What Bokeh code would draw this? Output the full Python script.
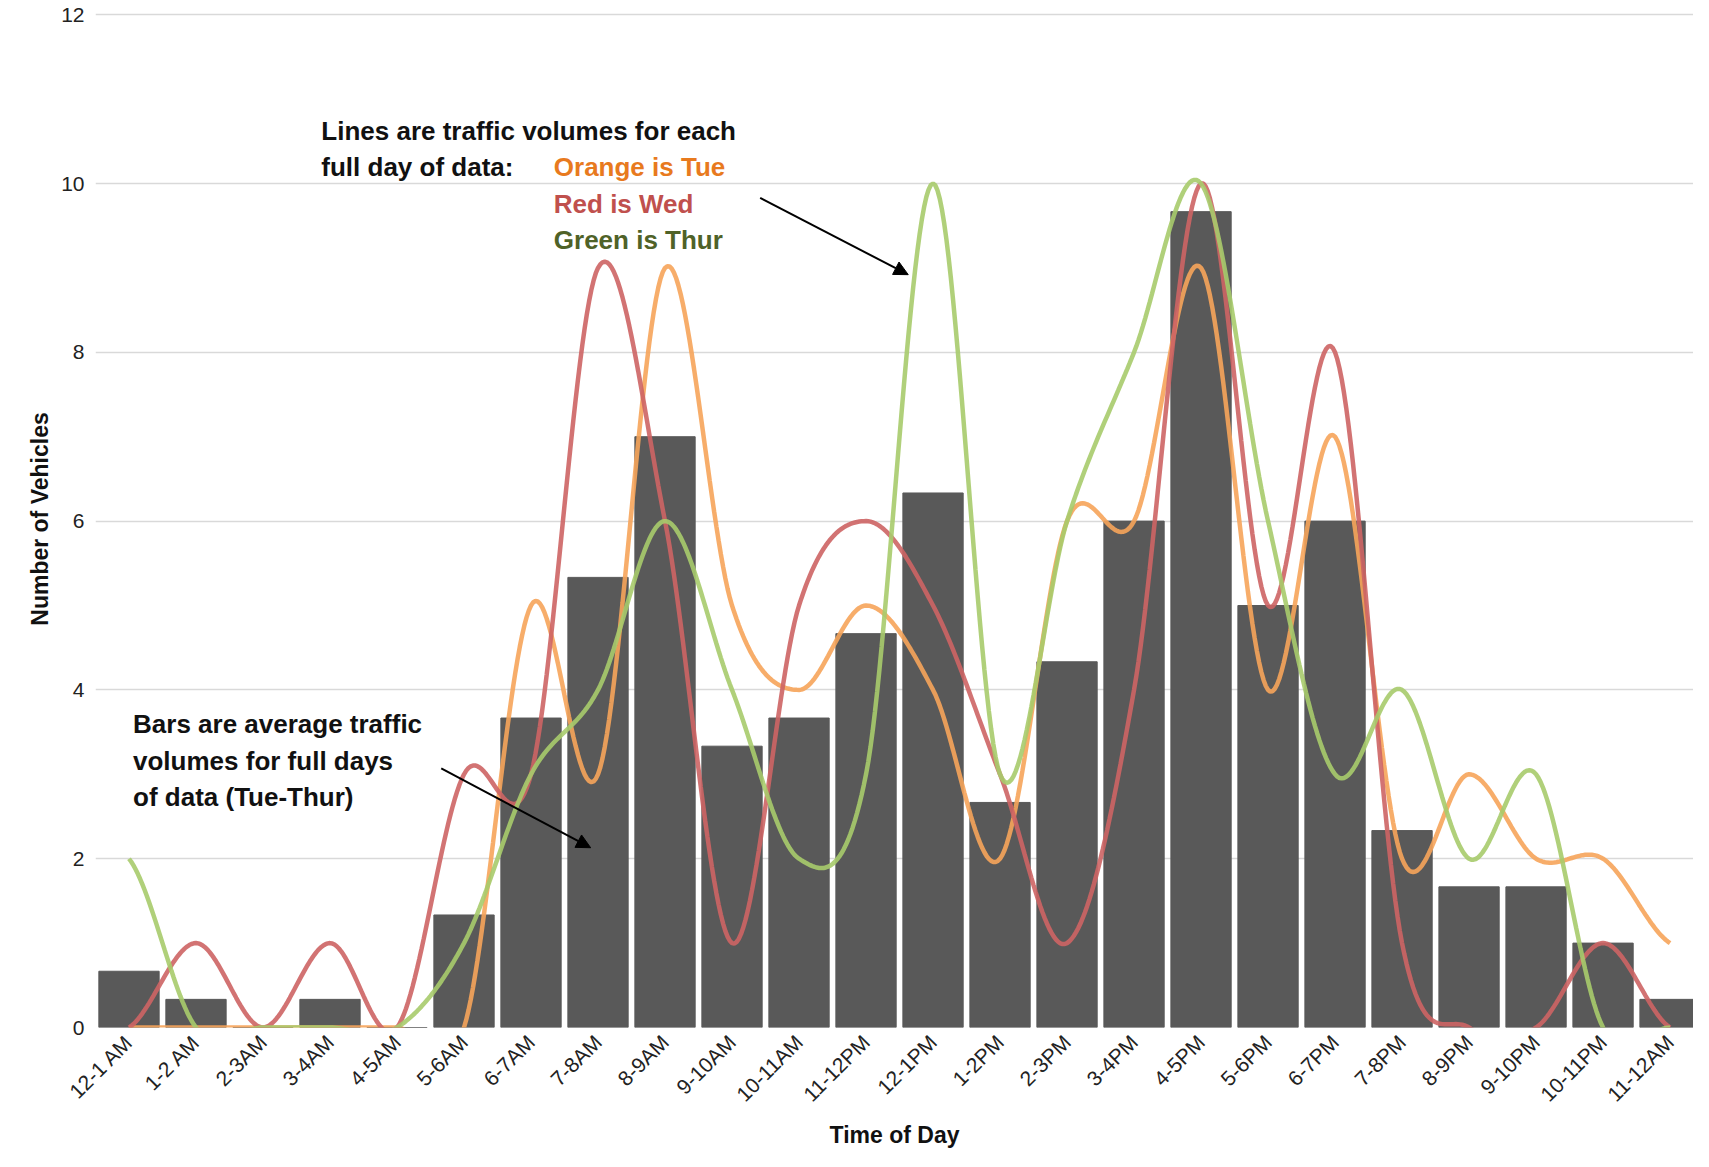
import numpy as np
from bokeh.plotting import figure
from bokeh.models import Label, Arrow, NormalHead, FixedTicker, ColumnDataSource
from bokeh.embed import file_html
from bokeh.resources import INLINE

hours = ["12-1 AM","1-2 AM","2-3AM","3-4AM","4-5AM","5-6AM","6-7AM","7-8AM","8-9AM","9-10AM",
         "10-11AM","11-12PM","12-1PM","1-2PM","2-3PM","3-4PM","4-5PM","5-6PM","6-7PM","7-8PM",
         "8-9PM","9-10PM","10-11PM","11-12AM"]
tue = [0,0,0,0,0,0,5,3,9,5,4,5,4,2,6,6,9,4,7,2,3,2,2,1]
wed = [0,1,0,1,0,3,3,9,6,1,5,6,5,3,1,4,10,5,8,1,0,0,1,0]
thu = [2,0,0,0,0,1,3,4,6,4,2,3,10,3,6,8,10,6,3,4,2,3,0,0]
avg = [(a+b+c)/3 for a,b,c in zip(tue,wed,thu)]

def smooth(y, n=30):
    y = np.asarray(y, float); x = np.arange(len(y), dtype=float)
    xs, ys = [], []
    for i in range(len(y)-1):
        p0 = y[i-1] if i > 0 else y[i]
        p3 = y[i+2] if i+2 < len(y) else y[i+1]
        c1 = y[i] + (y[i+1]-p0)/6
        c2 = y[i+1] - (p3-y[i])/6
        t = np.linspace(0, 1, n, endpoint=False)
        ys.extend((1-t)**3*y[i] + 3*(1-t)**2*t*c1 + 3*(1-t)*t**2*c2 + t**3*y[i+1])
        xs.extend(x[i] + t)
    xs.append(x[-1]); ys.append(y[-1])
    return xs, ys

p = figure(width=1693, height=1150, x_range=(-0.5, 23.35), y_range=(0, 12.05),
           output_backend="svg", toolbar_location=None, min_border_left=95, min_border_right=0,
           min_border_top=10)
p.outline_line_color = None
p.xgrid.grid_line_color = None
p.ygrid.grid_line_color = "#d9d9d9"
p.ygrid.grid_line_width = 1.5
p.yaxis.ticker = FixedTicker(ticks=[0,2,4,6,8,10,12])
p.xaxis.ticker = FixedTicker(ticks=list(range(24)))
p.xaxis.major_label_overrides = {i: h for i, h in enumerate(hours)}
p.xaxis.major_label_orientation = np.pi/4
for ax in (p.xaxis, p.yaxis):
    ax.axis_line_color = None
    ax.major_tick_line_color = None
    ax.minor_tick_line_color = None
    ax.major_label_text_font_size = "21px"
    ax.major_label_text_color = "#222222"
    ax.major_label_text_font = "Liberation Sans"
    ax.axis_label_text_font = "Liberation Sans"
    ax.axis_label_text_font_size = "23px"
    ax.axis_label_text_font_style = "bold"
    ax.axis_label_text_color = "#111111"
p.xaxis.axis_label = "Time of Day"
p.yaxis.axis_label = "Number of Vehicles"

src = ColumnDataSource(dict(x=list(range(24)), top=avg))
p.vbar(x="x", top="top", width=0.9, source=src, color="#595959")

for data, col in ((tue, "#F6A45A"), (wed, "#CD6464"), (thu, "#A7CB6C")):
    xs, ys = smooth(data)
    p.line(xs, ys, line_color=col, line_width=4.5, line_alpha=0.9)

fs = "26px"
def lab(x, y, t, c="#111111"):
    p.add_layout(Label(x=x, y=y, text=t, text_color=c, text_font="Liberation Sans",
                       text_font_size=fs, text_font_style="bold", text_baseline="top"))
lab(2.87, 10.8, "Lines are traffic volumes for each")
lab(2.87, 10.37, "full day of data:")
lab(6.34, 10.37, "Orange is Tue", "#E87A1E")
lab(6.34, 9.94, "Red is Wed", "#C0504D")
lab(6.34, 9.51, "Green is Thur", "#4F6228")
lab(0.06, 3.77, "Bars are average traffic")
lab(0.06, 3.34, "volumes for full days")
lab(0.06, 2.91, "of data (Tue-Thur)")
p.add_layout(Arrow(end=NormalHead(size=14, fill_color="black", line_color="black"),
                   x_start=9.42, y_start=9.83, x_end=11.63, y_end=8.92, line_width=2))
p.add_layout(Arrow(end=NormalHead(size=14, fill_color="black", line_color="black"),
                   x_start=4.66, y_start=3.07, x_end=6.89, y_end=2.13, line_width=2))

open("out.html", "w").write(file_html(p, INLINE))
